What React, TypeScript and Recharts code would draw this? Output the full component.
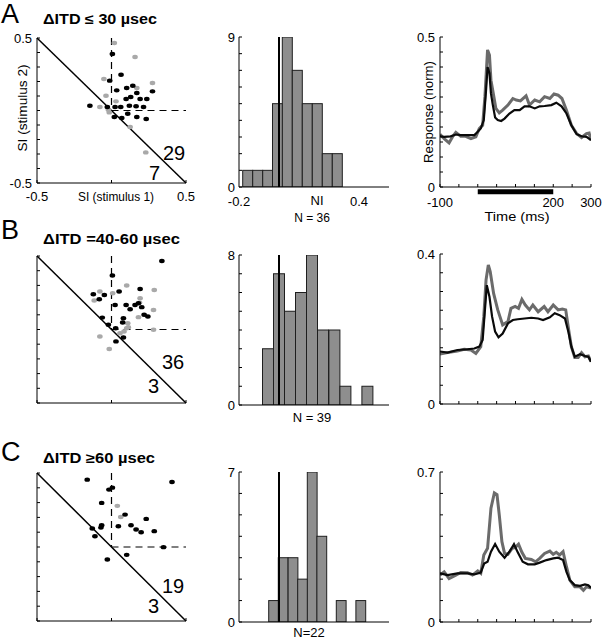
import React from 'react';
import {
  ScatterChart, Scatter, BarChart, Bar, LineChart, Line,
  XAxis, YAxis, ReferenceLine,
} from 'recharts';

const FONT = '"Liberation Sans", Arial, Helvetica, sans-serif';

// ---------------- scatter data (SI stimulus 1 vs SI stimulus 2) ----------------
const scatA_blackX = [0.006, 0.064, -0.012, 0.035, 0.102, 0.143, 0.170, 0.275, 0.098, 0.129, 0.192, 0.237, -0.145, -0.028, 0.024, 0.062, 0.120, 0.165, 0.215, 0.109, 0.019, 0.069, 0.170, 0.233];
const scatA_blackY = [0.39, 0.247, 0.206, 0.139, 0.155, 0.171, 0.121, 0.132, 0.079, 0.093, 0.079, 0.079, 0.033, 0.024, 0.024, 0.024, 0.033, 0.029, 0.024, -0.022, -0.045, -0.052, -0.045, -0.059];
const scatA_grayX = [0.019, 0.158, -0.051, 0.275, 0.170, -0.037, 0.030, -0.078, -0.015, 0.125, 0.230, -0.021];
const scatA_grayY = [0.466, 0.369, 0.217, 0.19, 0.155, 0.102, 0.063, 0.024, -0.013, -0.114, -0.289, 0.006];

const scatB_blackX = [0.338, 0.006, -0.122, -0.082, -0.048, 0.051, 0.192, 0.024, 0.098, 0.125, 0.158, 0.181, 0.203, 0.219, 0.244, -0.062, -0.021, 0.028, 0.080, 0.075, 0.030, 0.080];
const scatB_blackY = [0.466, 0.367, 0.240, 0.206, 0.235, 0.258, 0.276, 0.167, 0.167, 0.138, 0.167, 0.179, 0.152, 0.1, 0.088, 0.081, 0.032, 0.009, 0.077, 0.048, -0.081, -0.054];
const scatB_grayX = [0.102, -0.078, 0.008, -0.116, 0.192, 0.188, 0.287, 0.282, 0.181, 0.109, 0.102, 0.084, 0.057, -0.078, -0.015, 0.282, 0.113];
const scatB_grayY = [0.299, 0.258, 0.247, 0.197, 0.213, 0.183, 0.269, 0.133, 0.084, 0.043, 0.009, -0.014, -0.025, -0.048, -0.133, -0.002, 0.016];

const scatC_blackX = [-0.163, 0.406, -0.017, 0.006, -0.066, 0.091, 0.233, -0.066, -0.071, -0.129, -0.111, 0.046, 0.131, 0.165, 0.199, 0.287, 0.349, 0.102, -0.028];
const scatC_blackY = [0.455, 0.439, 0.388, 0.401, 0.298, 0.219, 0.190, 0.147, 0.131, 0.125, 0.073, 0.140, 0.147, 0.118, 0.1, 0.107, -0.001, -0.053, -0.084];
const scatC_grayX = [0.039, 0.062];
const scatC_grayY = [0.278, 0.203];

const siTicks = [-0.5, -0.4, -0.3, -0.2, -0.1, 0, 0.1, 0.2, 0.3, 0.4, 0.5];
const siXTicks = [-0.5, 0, 0.5];

// ---------------- histogram data (NI) ----------------
const histA_bins = [-0.157, -0.107, -0.057, -0.008, 0.041, 0.091, 0.141, 0.191, 0.241, 0.291];
const histA_counts = [1, 1, 1, 5, 9, 7, 5, 5, 2, 2];
const histA_binWidth = 0.05;
const histB_bins = [-0.055, 0.0, 0.055, 0.11, 0.165, 0.22, 0.277, 0.332, 0.442];
const histB_counts = [3, 7, 5, 6, 8, 4, 4, 1, 1];
const histB_binWidth = 0.055;
const histC_bins = [-0.028, 0.02, 0.069, 0.117, 0.165, 0.213, 0.31, 0.408];
const histC_counts = [1, 3, 3, 2, 7, 4, 1, 1];
const histC_binWidth = 0.049;
const niDomain: [number, number] = [-0.2, 0.55];

// ---------------- response traces ----------------
const respA_blackT = [-100, -89, -72, -58, -45, -27, -9, 0, 8, 16, 22, 26, 31, 35, 40, 46, 53, 62, 71, 84, 97, 111, 124, 137, 151, 164, 177, 195, 208, 222, 235, 248, 262, 275, 288, 300];
const respA_blackV = [0.169, 0.167, 0.169, 0.175, 0.173, 0.173, 0.173, 0.184, 0.195, 0.223, 0.323, 0.40, 0.379, 0.312, 0.273, 0.232, 0.223, 0.220, 0.228, 0.245, 0.256, 0.256, 0.269, 0.269, 0.262, 0.269, 0.270, 0.273, 0.281, 0.269, 0.245, 0.206, 0.176, 0.169, 0.167, 0.156];
const respA_grayT = [-100, -89, -76, -67, -58, -45, -32, -18, -5, 4, 13, 19, 26, 31, 35, 42, 48, 57, 66, 80, 93, 102, 113, 128, 137, 151, 164, 177, 191, 202, 213, 223, 235, 248, 262, 275, 288, 295, 300];
const respA_grayV = [0.176, 0.161, 0.147, 0.167, 0.182, 0.169, 0.169, 0.161, 0.167, 0.195, 0.206, 0.301, 0.457, 0.44, 0.356, 0.306, 0.262, 0.247, 0.256, 0.273, 0.295, 0.29, 0.287, 0.304, 0.273, 0.29, 0.284, 0.301, 0.295, 0.31, 0.306, 0.295, 0.256, 0.206, 0.178, 0.165, 0.178, 0.18, 0.156];

const respB_blackT = [-100, -80, -54, -27, -9, 4, 13, 17, 24, 31, 38, 46, 55, 66, 80, 93, 106, 124, 142, 160, 173, 191, 204, 217, 231, 240, 248, 257, 271, 284, 293, 300];
const respB_blackV = [0.14, 0.137, 0.144, 0.146, 0.148, 0.153, 0.171, 0.224, 0.317, 0.286, 0.233, 0.193, 0.178, 0.188, 0.215, 0.224, 0.226, 0.228, 0.23, 0.228, 0.224, 0.231, 0.242, 0.237, 0.228, 0.193, 0.153, 0.126, 0.133, 0.128, 0.126, 0.113];
const respB_grayT = [-100, -80, -54, -36, -18, -5, 8, 16, 22, 28, 33, 42, 53, 66, 80, 88, 99, 108, 117, 126, 137, 146, 160, 176, 186, 200, 213, 224, 233, 241, 248, 257, 266, 275, 284, 293, 300];
const respB_grayV = [0.133, 0.137, 0.141, 0.146, 0.144, 0.135, 0.153, 0.233, 0.331, 0.371, 0.353, 0.295, 0.251, 0.211, 0.22, 0.255, 0.26, 0.255, 0.279, 0.264, 0.251, 0.264, 0.246, 0.26, 0.246, 0.264, 0.251, 0.253, 0.251, 0.197, 0.153, 0.124, 0.124, 0.137, 0.126, 0.128, 0.113];

const respC_blackT = [-100, -80, -54, -27, -9, 8, 17, 26, 35, 46, 57, 71, 84, 96, 106, 119, 133, 151, 164, 182, 200, 213, 226, 235, 244, 257, 271, 284, 293, 300];
const respC_blackV = [0.227, 0.219, 0.227, 0.227, 0.222, 0.231, 0.273, 0.281, 0.328, 0.364, 0.328, 0.30, 0.328, 0.363, 0.325, 0.281, 0.269, 0.269, 0.277, 0.289, 0.297, 0.30, 0.289, 0.234, 0.195, 0.172, 0.169, 0.175, 0.172, 0.159];
const respC_grayT = [-100, -89, -76, -58, -45, -27, -14, 0, 8, 16, 26, 35, 44, 51, 57, 64, 71, 80, 91, 99, 108, 117, 126, 142, 153, 164, 177, 191, 200, 208, 217, 226, 235, 244, 257, 271, 280, 288, 300];
const respC_grayV = [0.219, 0.234, 0.203, 0.219, 0.231, 0.23, 0.219, 0.238, 0.227, 0.313, 0.344, 0.531, 0.602, 0.594, 0.50, 0.375, 0.32, 0.316, 0.344, 0.347, 0.363, 0.325, 0.297, 0.292, 0.281, 0.297, 0.32, 0.331, 0.316, 0.325, 0.313, 0.328, 0.258, 0.195, 0.164, 0.164, 0.148, 0.164, 0.159];

const timeTicks = [-100, -50, 0, 50, 100, 150, 200, 250, 300];
const stimulusOn = [0, 200];

// ---------------- helpers ----------------
const zipXY = (xs: number[], ys: number[]) => xs.slice(0, Math.min(xs.length, ys.length)).map((x, i) => ({ x, y: ys[i] }));
const zipTV = (ts: number[], vs: number[]) => ts.slice(0, Math.min(ts.length, vs.length)).map((t, i) => ({ t, v: vs[i] }));
const zipHist = (bins: number[], counts: number[]) => bins.map((bin, i) => ({ bin, count: counts[i] }));

type Labels = Record<string, string>;

const leftTick = (labels: Labels, len = 3, gap = 5) => (p: any) => {
  const lab = labels[String(p.payload.value)];
  return (
    <g>
      <line x1={p.x} x2={p.x + len} y1={p.y} y2={p.y} stroke="#000" strokeWidth={1} />
      {lab !== undefined ? (
        <text x={p.x - gap} y={p.y} dy="0.36em" textAnchor="end" fontFamily={FONT} fontSize={13} fill="#000">{lab}</text>
      ) : null}
    </g>
  );
};

const bottomTick = (labels: Labels, len = 3, base = 18) => (p: any) => {
  const lab = labels[String(p.payload.value)];
  return (
    <g>
      {len > 0 ? <line x1={p.x} x2={p.x} y1={p.y} y2={p.y - len} stroke="#000" strokeWidth={1} /> : null}
      {lab !== undefined ? (
        <text x={p.x} y={p.y + base} textAnchor="middle" fontFamily={FONT} fontSize={13} fill="#000">{lab}</text>
      ) : null}
    </g>
  );
};

const dot = (color: string) => (p: any) => (
  <ellipse cx={p.cx} cy={p.cy} rx={2.8} ry={2.2} fill={color} />
);

type Rect = { x: number; y: number; w: number; h: number };
const YW = 36, MT = 8, MR = 14, XH = 24;

const Box: React.FC<{ r: Rect; children: React.ReactNode }> = ({ r, children }) => (
  <div style={{ position: 'absolute', left: r.x - YW, top: r.y - MT }}>{children}</div>
);
const chartW = (r: Rect) => r.w + YW + MR;
const chartH = (r: Rect) => r.h + MT + XH;
const margin = { top: MT, right: MR, left: 0, bottom: 0 };

// ---------------- panels ----------------
const ScatterPanel: React.FC<{ r: Rect; black: { x: number; y: number }[]; gray: { x: number; y: number }[]; yLabels: Labels; xLabels: Labels }> = ({ r, black, gray, yLabels, xLabels }) => (
  <Box r={r}>
    <ScatterChart width={chartW(r)} height={chartH(r)} margin={margin}>
      <XAxis type="number" dataKey="x" domain={[-0.5, 0.5]} ticks={siXTicks} interval={0} height={XH}
        tickSize={0} tickMargin={0} stroke="#000" tickLine={false} tick={bottomTick(xLabels, 3, 18)} allowDataOverflow />
      <YAxis type="number" dataKey="y" domain={[-0.5, 0.5]} ticks={siTicks} interval={0} width={YW}
        tickSize={0} tickMargin={0} stroke="#000" tickLine={false} tick={leftTick(yLabels, 3, 5)} allowDataOverflow />
      <ReferenceLine segment={[{ x: -0.5, y: 0.5 }, { x: 0.5, y: -0.5 }]} stroke="#000" strokeWidth={1.5} ifOverflow="visible" />
      <ReferenceLine segment={[{ x: 0, y: 0.5 }, { x: 0, y: 0 }]} stroke="#000" strokeWidth={1.2} strokeDasharray="7 5" ifOverflow="visible" />
      <ReferenceLine segment={[{ x: 0, y: 0 }, { x: 0.5, y: 0 }]} stroke="#000" strokeWidth={1.2} strokeDasharray="7 5" ifOverflow="visible" />
      <Scatter data={gray} shape={dot('#a9a9a9')} isAnimationActive={false} />
      <Scatter data={black} shape={dot('#000000')} isAnimationActive={false} />
    </ScatterChart>
  </Box>
);

const HistPanel: React.FC<{ r: Rect; bins: number[]; counts: number[]; binWidth: number; maxCount: number; xLabels: Labels }> = ({ r, bins, counts, binWidth, maxCount, xLabels }) => {
  const data = zipHist(bins, counts);
  const yTicks = Array.from({ length: maxCount + 1 }, (_, i) => i);
  const yLabels: Labels = { '0': '0', [String(maxCount)]: String(maxCount) };
  const pxW = (binWidth * r.w) / (niDomain[1] - niDomain[0]);
  const barShape = (p: any) => (
    <rect x={p.x + p.width / 2 - pxW / 2} y={p.y} width={pxW} height={p.height} fill="#8e8e8e" stroke="#1e1e1e" strokeWidth={1} />
  );
  return (
    <Box r={r}>
      <BarChart width={chartW(r)} height={chartH(r)} margin={margin} data={data} barCategoryGap={0}>
        <XAxis type="number" dataKey="bin" domain={niDomain} ticks={[-0.2, 0.4]} interval={0} height={XH}
          tickSize={0} tickMargin={0} stroke="#000" tickLine={false} tick={bottomTick(xLabels, 0, 19)} allowDataOverflow />
        <YAxis type="number" domain={[0, maxCount]} ticks={yTicks} interval={0} width={YW}
          tickSize={0} tickMargin={0} stroke="#000" tickLine={false} tick={leftTick(yLabels, 3, 4)} allowDataOverflow />
        <Bar dataKey="count" shape={barShape} isAnimationActive={false} />
        <ReferenceLine x={0} stroke="#000" strokeWidth={2} />
      </BarChart>
    </Box>
  );
};

const RespPanel: React.FC<{ r: Rect; black: { t: number; v: number }[]; gray: { t: number; v: number }[]; yMax: number; yTicks: number[]; xLabels: Labels; showStim: boolean }> = ({ r, black, gray, yMax, yTicks, xLabels, showStim }) => {
  const yLabels: Labels = { '0': '0', [String(yMax)]: String(yMax) };
  return (
    <Box r={r}>
      <LineChart width={chartW(r)} height={chartH(r)} margin={margin}>
        <XAxis type="number" dataKey="t" domain={[-100, 300]} ticks={timeTicks} interval={0} height={XH}
          tickSize={0} tickMargin={0} stroke="#000" tickLine={false} tick={bottomTick(xLabels, 3, 20)} allowDataOverflow />
        <YAxis type="number" domain={[0, yMax]} ticks={yTicks} interval={0} width={YW}
          tickSize={0} tickMargin={0} stroke="#000" tickLine={false} tick={leftTick(yLabels, 3, 5)} allowDataOverflow />
        <Line data={gray} dataKey="v" stroke="#6b6b6b" strokeWidth={3} dot={false} type="linear" isAnimationActive={false} />
        <Line data={black} dataKey="v" stroke="#0a0a0a" strokeWidth={2.2} dot={false} type="linear" isAnimationActive={false} />
        {showStim ? (
          <ReferenceLine segment={[{ x: stimulusOn[0], y: -yMax * 0.032 }, { x: stimulusOn[1], y: -yMax * 0.032 }]}
            stroke="#000" strokeWidth={5} ifOverflow="visible" />
        ) : null}
      </LineChart>
    </Box>
  );
};

// ---------------- layout ----------------
const scatA: Rect = { x: 37, y: 38, w: 149, h: 145 };
const scatB: Rect = { x: 37, y: 256, w: 149, h: 147 };
const scatC: Rect = { x: 37, y: 473, w: 149, h: 148 };
const histA: Rect = { x: 239, y: 37, w: 150, h: 150 };
const histB: Rect = { x: 239, y: 255, w: 150, h: 150 };
const histC: Rect = { x: 239, y: 472, w: 150, h: 150 };
const respA: Rect = { x: 440, y: 37, w: 151, h: 150 };
const respB: Rect = { x: 440, y: 254, w: 151, h: 150 };
const respC: Rect = { x: 440, y: 472, w: 151, h: 150 };

const T: React.FC<{ x: number; y: number; size?: number; bold?: boolean; anchor?: 'start' | 'middle' | 'end'; len?: number; rot?: boolean; children: React.ReactNode }> = ({ x, y, size = 13, bold, anchor = 'start', len, rot, children }) => (
  <text
    x={rot ? 0 : x}
    y={rot ? 0 : y}
    transform={rot ? `translate(${x},${y}) rotate(-90)` : undefined}
    fontFamily={FONT}
    fontSize={size}
    fontWeight={bold ? 700 : 400}
    textAnchor={anchor}
    fill="#000"
    textLength={len}
    lengthAdjust={len ? 'spacingAndGlyphs' : undefined}
  >
    {children}
  </text>
);

export default function App() {
  return (
    <div style={{ position: 'absolute', left: 0, top: 0, width: 605, height: 639, overflow: 'hidden', background: '#fff' }}>
      <ScatterPanel r={scatA} black={zipXY(scatA_blackX, scatA_blackY)} gray={zipXY(scatA_grayX, scatA_grayY)}
        yLabels={{ '0.5': '0.5', '-0.5': '-0.5' }} xLabels={{ '0.5': '0.5', '-0.5': '-0.5' }} />
      <ScatterPanel r={scatB} black={zipXY(scatB_blackX, scatB_blackY)} gray={zipXY(scatB_grayX, scatB_grayY)} yLabels={{}} xLabels={{}} />
      <ScatterPanel r={scatC} black={zipXY(scatC_blackX, scatC_blackY)} gray={zipXY(scatC_grayX, scatC_grayY)} yLabels={{}} xLabels={{}} />

      <HistPanel r={histA} bins={histA_bins} counts={histA_counts} binWidth={histA_binWidth} maxCount={9} xLabels={{ '-0.2': '-0.2', '0.4': '0.4' }} />
      <HistPanel r={histB} bins={histB_bins} counts={histB_counts} binWidth={histB_binWidth} maxCount={8} xLabels={{}} />
      <HistPanel r={histC} bins={histC_bins} counts={histC_counts} binWidth={histC_binWidth} maxCount={7} xLabels={{}} />

      <RespPanel r={respA} black={zipTV(respA_blackT, respA_blackV)} gray={zipTV(respA_grayT, respA_grayV)} yMax={0.5}
        yTicks={[0, 0.05, 0.1, 0.15, 0.2, 0.25, 0.3, 0.35, 0.4, 0.45, 0.5]} xLabels={{ '-100': '-100', '200': '200', '300': '300' }} showStim />
      <RespPanel r={respB} black={zipTV(respB_blackT, respB_blackV)} gray={zipTV(respB_grayT, respB_grayV)} yMax={0.4}
        yTicks={[0, 0.05, 0.1, 0.15, 0.2, 0.25, 0.3, 0.35, 0.4]} xLabels={{}} showStim={false} />
      <RespPanel r={respC} black={zipTV(respC_blackT, respC_blackV)} gray={zipTV(respC_grayT, respC_grayV)} yMax={0.7}
        yTicks={[0, 0.1, 0.2, 0.3, 0.4, 0.5, 0.6, 0.7]} xLabels={{}} showStim={false} />

      <svg width={605} height={639} style={{ position: 'absolute', left: 0, top: 0, pointerEvents: 'none' }}>
        <T x={1} y={23} size={27}>A</T>
        <T x={1} y={239} size={27}>B</T>
        <T x={1} y={461} size={27}>C</T>

        <T x={43} y={24} size={14} bold len={114}>ΔITD ≤ 30 µsec</T>
        <T x={43} y={244} size={14} bold len={137}>ΔITD =40-60 µsec</T>
        <T x={43} y={463} size={14} bold len={112}>ΔITD ≥60 µsec</T>

        <T x={163} y={160} size={20}>29</T>
        <T x={149} y={180} size={20}>7</T>
        <T x={162} y={369} size={20}>36</T>
        <T x={148} y={393} size={20}>3</T>
        <T x={162} y={593} size={20}>19</T>
        <T x={148} y={613} size={20}>3</T>

        <T x={116} y={201} anchor="middle" len={76}>SI (stimulus 1)</T>
        <T x={27} y={108} anchor="middle" len={87} rot>SI (stimulus 2)</T>

        <T x={317} y={205} anchor="middle">NI</T>
        <T x={312} y={222} anchor="middle" size={12}>N = 36</T>
        <T x={312} y={422} anchor="middle">N = 39</T>
        <T x={309} y={637} anchor="middle">N=22</T>

        <T x={433} y={112} anchor="middle" len={102} rot>Response (norm)</T>
        <T x={517} y={221} anchor="middle" len={65}>Time (ms)</T>
      </svg>
    </div>
  );
}
